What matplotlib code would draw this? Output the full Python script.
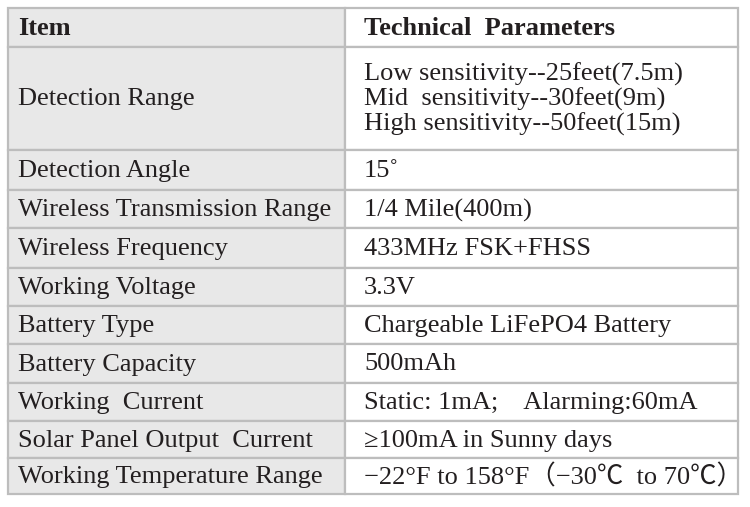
import matplotlib.pyplot as plt
from matplotlib.patches import Rectangle

header = ["Item", "Technical  Parameters"]
items = ["Detection Range", "Detection Angle", "Wireless Transmission Range",
         "Wireless Frequency", "Working Voltage", "Battery Type",
         "Battery Capacity", "Working  Current", "Solar Panel Output  Current",
         "Working Temperature Range"]
params = ["Low sensitivity--25feet(7.5m)\nMid  sensitivity--30feet(9m)\nHigh sensitivity--50feet(15m)",
          "15\u02da", "1/4 Mile(400m)", "433MHz FSK+FHSS", "3.3V",
          "Chargeable LiFePO4 Battery", "500mAh",
          "Static: 1mA;    Alarming:60mA", "\u2265100mA in Sunny days",
          "\u221222\u00b0F to 158\u00b0F\uff08\u221230\u2103  to 70\u2103\uff09"]

# layout (pixels)
row_edges = [8, 47, 150, 190, 228, 268, 306, 344, 383, 421, 458, 494]
x0, xm, x1 = 8, 345, 738
grey, line = "#e8e8e8", "#bdbdbd"
font = ["Liberation Serif", "Noto Sans CJK SC", "DejaVu Sans"]

fig = plt.figure(figsize=(7.5, 5.07), dpi=100)
ax = fig.add_axes([0, 0, 1, 1])
ax.set_xlim(0, 750)
ax.set_ylim(507, 0)
ax.axis("off")

rows = [header] + list(zip(items, params))
for i, (a, b) in enumerate(rows):
    top, bot = row_edges[i], row_edges[i + 1]
    ax.add_patch(Rectangle((x0, top), xm - x0, bot - top, fc=grey, ec=line, lw=1.6))
    ax.add_patch(Rectangle((xm, top), x1 - xm, bot - top, fc="white", ec=line, lw=1.6))
    yc = (top + bot) / 2 + 1
    w = "bold" if i == 0 else "normal"
    ax.text(x0 + 10, yc, a, va="center", ha="left", fontsize=19, family=font,
            fontweight=w, color="#231f20")
    ax.text(xm + 19, yc, b, va="center", ha="left", fontsize=19, family=font,
            fontweight=w, color="#231f20", linespacing=1.1)

fig.savefig("out.png", dpi=100)
